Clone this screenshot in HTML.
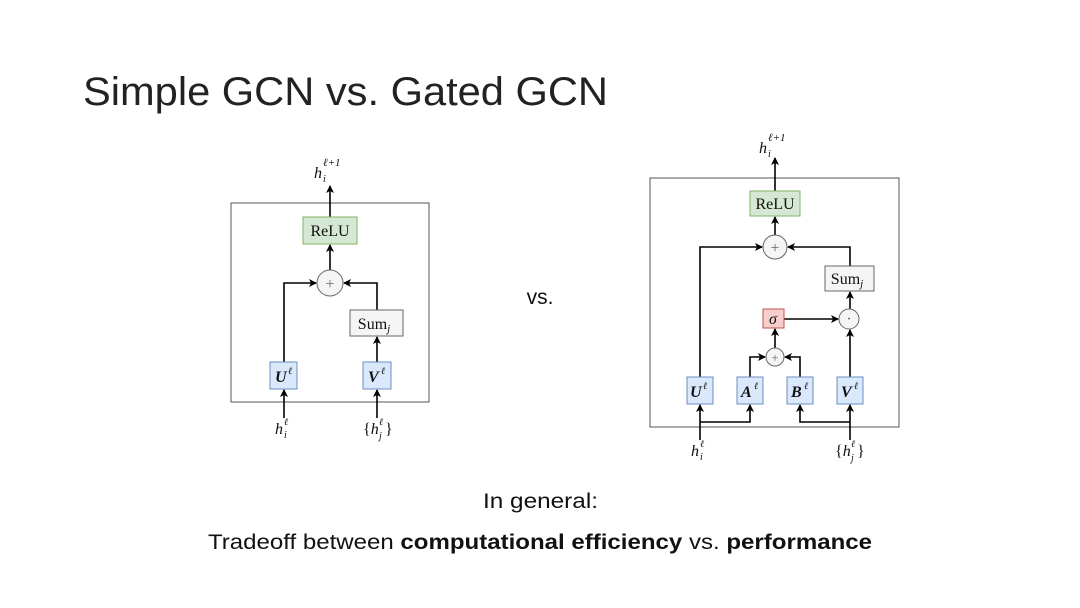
<!DOCTYPE html>
<html><head><meta charset="utf-8"><style>
body{margin:0;background:#fff;}
svg{display:block;font-family:"Liberation Sans",sans-serif;}
.m{font-family:"Liberation Serif",serif;}
</style></head><body>
<svg width="1080" height="608" viewBox="0 0 1080 608">
<defs><marker id="a" markerWidth="8" markerHeight="8" refX="7" refY="4" orient="auto" markerUnits="userSpaceOnUse"><path d="M0,0 L8,4 L0,8 L2,4z" fill="#000"/></marker></defs>
<text x="83" y="105" font-size="40" fill="#222" textLength="525" lengthAdjust="spacingAndGlyphs">Simple GCN vs. Gated GCN</text>
<text x="540" y="304" font-size="21" text-anchor="middle" fill="#111">vs.</text>
<text x="483" y="508" font-size="21" fill="#111" textLength="115" lengthAdjust="spacingAndGlyphs">In general:</text>
<text x="208" y="549" font-size="21" fill="#111" textLength="664" lengthAdjust="spacingAndGlyphs">Tradeoff between <tspan font-weight="bold">computational efficiency</tspan> vs. <tspan font-weight="bold">performance</tspan></text>

<g stroke="#000" stroke-width="1.6" fill="none">
<rect x="231" y="203" width="198" height="199" stroke="#555" stroke-width="1"/>
<line x1="330" y1="217" x2="330" y2="186" marker-end="url(#a)"/>
<line x1="330" y1="270" x2="330" y2="245" marker-end="url(#a)"/>
<polyline points="284,362 284,283 316,283" marker-end="url(#a)"/>
<polyline points="377,310 377,283 344,283" marker-end="url(#a)"/>
<line x1="377" y1="362" x2="377" y2="337" marker-end="url(#a)"/>
<line x1="284" y1="418" x2="284" y2="390" marker-end="url(#a)"/>
<line x1="377" y1="418" x2="377" y2="390" marker-end="url(#a)"/>
<rect x="650" y="178" width="249" height="249" stroke="#555" stroke-width="1"/>
<line x1="775" y1="191" x2="775" y2="158" marker-end="url(#a)"/>
<line x1="775" y1="235" x2="775" y2="217" marker-end="url(#a)"/>
<polyline points="700,377 700,247 762,247" marker-end="url(#a)"/>
<polyline points="850,266 850,247 788,247" marker-end="url(#a)"/>
<line x1="850" y1="309" x2="850" y2="292" marker-end="url(#a)"/>
<line x1="784" y1="319" x2="838" y2="319" marker-end="url(#a)"/>
<line x1="850" y1="377" x2="850" y2="330" marker-end="url(#a)"/>
<line x1="775" y1="348" x2="775" y2="329" marker-end="url(#a)"/>
<polyline points="750,377 750,357 765,357" marker-end="url(#a)"/>
<polyline points="800,377 800,357 785,357" marker-end="url(#a)"/>
<line x1="700" y1="440" x2="700" y2="405" marker-end="url(#a)"/>
<polyline points="700,422 750,422 750,405" marker-end="url(#a)"/>
<line x1="850" y1="440" x2="850" y2="405" marker-end="url(#a)"/>
<polyline points="850,422 800,422 800,405" marker-end="url(#a)"/>
</g>
<g stroke-width="1">
<rect x="303" y="217" width="54" height="27" fill="#d5e8d4" stroke="#82b366"/>
<circle cx="330" cy="283" r="13" fill="#f5f5f5" stroke="#666"/>
<rect x="350" y="310" width="53" height="26" fill="#f5f5f5" stroke="#666"/>
<rect x="270" y="362" width="27" height="27" fill="#dae8fc" stroke="#6c8ebf"/>
<rect x="363" y="362" width="28" height="27" fill="#dae8fc" stroke="#6c8ebf"/>
<rect x="750" y="191" width="50" height="25" fill="#d5e8d4" stroke="#82b366"/>
<circle cx="775" cy="247" r="12" fill="#f5f5f5" stroke="#666"/>
<rect x="825" y="266" width="49" height="25" fill="#f5f5f5" stroke="#666"/>
<rect x="763" y="309" width="21" height="19" fill="#f8cecc" stroke="#b85450"/>
<circle cx="849" cy="319" r="10" fill="#f5f5f5" stroke="#666"/>
<circle cx="775" cy="357" r="9" fill="#f5f5f5" stroke="#666"/>
<rect x="687" y="377" width="26" height="27" fill="#dae8fc" stroke="#6c8ebf"/>
<rect x="737" y="377" width="26" height="27" fill="#dae8fc" stroke="#6c8ebf"/>
<rect x="787" y="377" width="26" height="27" fill="#dae8fc" stroke="#6c8ebf"/>
<rect x="837" y="377" width="26" height="27" fill="#dae8fc" stroke="#6c8ebf"/>
</g>
<g class="m" fill="#111" font-size="16">
<g text-anchor="middle">
<text x="330" y="236">ReLU</text>
<text x="330" y="289" fill="#666">+</text>
<text x="374" y="329">Sum<tspan font-style="italic" font-size="11" dy="3">j</tspan></text>
<text x="775" y="209">ReLU</text>
<text x="775" y="253" fill="#666">+</text>
<text x="847" y="284">Sum<tspan font-style="italic" font-size="11" dy="3">j</tspan></text>
<text x="773" y="324" font-style="italic">σ</text>
<text x="849" y="324" fill="#666">·</text>
<text x="775" y="362" fill="#666" font-size="13">+</text>
</g>
<g font-style="italic" font-weight="bold">
<text x="275" y="382">U</text><text x="288" y="374" font-size="10" font-weight="normal">ℓ</text>
<text x="368" y="382">V</text><text x="381" y="374" font-size="10" font-weight="normal">ℓ</text>
<text x="690" y="397">U</text><text x="703" y="389" font-size="10" font-weight="normal">ℓ</text>
<text x="741" y="397">A</text><text x="754" y="389" font-size="10" font-weight="normal">ℓ</text>
<text x="791" y="397">B</text><text x="804" y="389" font-size="10" font-weight="normal">ℓ</text>
<text x="841" y="397">V</text><text x="854" y="389" font-size="10" font-weight="normal">ℓ</text>
</g>
<g font-style="italic">
<text x="314" y="178">h</text><text x="323" y="166" font-size="11">ℓ+1</text><text x="323" y="182" font-size="10">i</text>
<text x="759" y="153">h</text><text x="768" y="141" font-size="11">ℓ+1</text><text x="768" y="157" font-size="10">i</text>
<text x="275" y="434">h</text><text x="284" y="425" font-size="10">ℓ</text><text x="284" y="438" font-size="10">i</text>
<text x="691" y="456">h</text><text x="700" y="447" font-size="10">ℓ</text><text x="700" y="460" font-size="10">i</text>
<text x="363" y="434"><tspan font-style="normal">{</tspan>h</text><text x="379" y="425" font-size="10">ℓ</text><text x="379" y="439" font-size="10">j</text><text x="385" y="434" font-style="normal">}</text>
<text x="835" y="456"><tspan font-style="normal">{</tspan>h</text><text x="851" y="447" font-size="10">ℓ</text><text x="851" y="461" font-size="10">j</text><text x="857" y="456" font-style="normal">}</text>
</g>
</g>
</svg>
</body></html>
